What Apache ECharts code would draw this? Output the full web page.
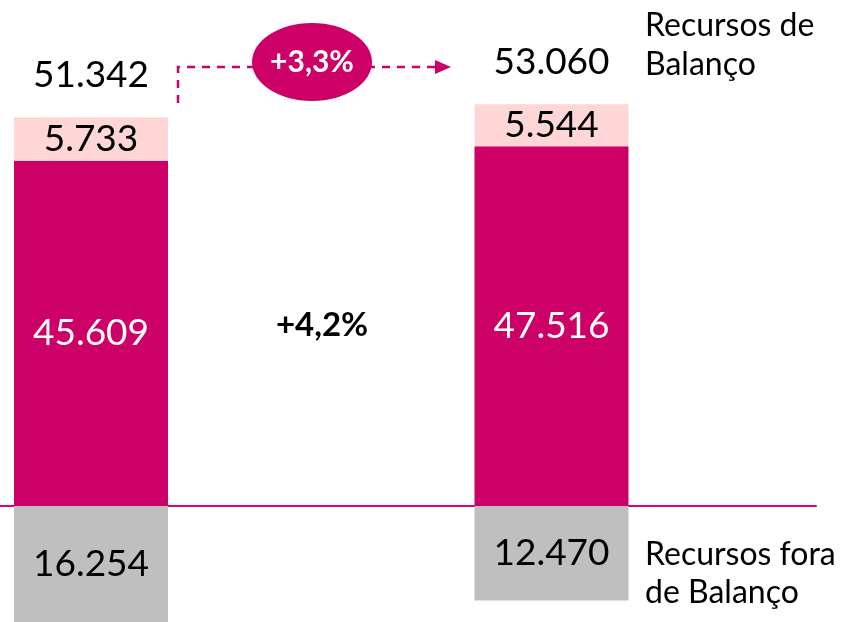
<!DOCTYPE html>
<html>
<head>
    <meta charset="utf-8" />
    <script src="https://cdn.jsdelivr.net/npm/echarts@6/dist/echarts.min.js"></script>
    <style>
        html, body { margin: 0; padding: 0; background: #fff; }
        #chart { width: 844px; height: 622px; }
    </style>
</head>
<body>
<div id="chart"></div>
<script type="text/javascript">
    // posição das duas colunas no eixo x (período anterior, período atual)
    var positions = [0, 1];
    // recursos de balanço (parte principal e parte superior)
    var balancoMain = [45609, 47516];
    var balancoTop = [5733, 5544];
    var totals = [51342, 53060];
    // recursos fora de balanço (abaixo do zero)
    var foraBalanco = [-16254, -12470];

    var crescimentoTotal = '+4,2%';
    var crescimentoBalanco = '+3,3%';

    function fmt(n) {
        return String(Math.abs(n)).replace(/\B(?=(\d{3})+(?!\d))/g, '.');
    }
    // valor primeiro, para que o empilhamento seja feito no eixo y
    function pairs(vals) {
        var out = [];
        for (var i = 0; i < vals.length; i++) {
            out.push([vals[i], positions[i]]);
        }
        return out;
    }
    function valueLabel(color) {
        return {
            show: true, position: 'inside', color: color,
            fontSize: 37, fontFamily: font,
            formatter: function (p) { return fmt(p.value[0]); }
        };
    }

    var font = 'Lato, "Liberation Sans", sans-serif';
    var chart = echarts.init(document.getElementById('chart'));
    var option = {
        animation: false,
        grid: { left: 0, right: 28, top: 0, bottom: 0 },
        xAxis: {
            type: 'value', min: -0.1976, max: 1.5744,
            axisLine: { show: true, onZero: true, lineStyle: { color: '#E8006A', width: 2 } },
            axisTick: { show: false }, axisLabel: { show: false }, splitLine: { show: false }
        },
        yAxis: { type: 'value', min: -15323, max: 66843, show: false },
        series: [
            {
                type: 'bar', stack: 'total', barWidth: 154,
                data: pairs(balancoMain), encode: { x: 1, y: 0 },
                itemStyle: { color: '#CC0066' },
                label: valueLabel('#fff')
            },
            {
                type: 'bar', stack: 'total', barWidth: 154,
                data: pairs(balancoTop), encode: { x: 1, y: 0 },
                itemStyle: { color: '#FFD6D6' },
                label: valueLabel('#000')
            },
            {
                type: 'bar', stack: 'total', barWidth: 154,
                data: pairs(foraBalanco), encode: { x: 1, y: 0 },
                itemStyle: { color: '#BFBFBF' },
                label: valueLabel('#000')
            },
            {
                type: 'scatter', symbolSize: 0,
                data: pairs(totals), encode: { x: 1, y: 0 },
                itemStyle: { opacity: 1 },
                label: {
                    show: true, position: 'top', distance: 24, color: '#000',
                    fontSize: 37, fontFamily: font,
                    formatter: function (p) { return fmt(p.value[0]); }
                }
            }
        ],
        graphic: [
            {
                type: 'polyline',
                shape: { points: [[178, 103], [178, 67], [436, 67]] },
                style: { stroke: '#CC0066', lineWidth: 2.5, lineDash: [8, 7], fill: null }
            },
            {
                type: 'polygon',
                shape: { points: [[435, 60], [451, 67], [435, 74]] },
                style: { fill: '#CC0066' }
            },
            {
                type: 'ellipse',
                shape: { cx: 312, cy: 62, rx: 60, ry: 39 },
                style: { fill: '#CC0066' }
            },
            {
                type: 'text', x: 312, y: 62,
                style: {
                    text: crescimentoBalanco, fill: '#fff', font: 'bold 30px ' + font,
                    align: 'center', verticalAlign: 'middle'
                }
            },
            {
                type: 'text', x: 322, y: 325,
                style: {
                    text: crescimentoTotal, fill: '#000', font: 'bold 33px ' + font,
                    align: 'center', verticalAlign: 'middle'
                }
            },
            {
                type: 'text', x: 645, y: 45,
                style: {
                    text: 'Recursos de\nBalanço', fill: '#000', font: '32px ' + font,
                    lineHeight: 39, align: 'left', verticalAlign: 'middle'
                }
            },
            {
                type: 'text', x: 645, y: 574,
                style: {
                    text: 'Recursos fora\nde Balanço', fill: '#000', font: '32px ' + font,
                    lineHeight: 38, align: 'left', verticalAlign: 'middle'
                }
            }
        ]
    };
    chart.setOption(option);
</script>
</body>
</html>
